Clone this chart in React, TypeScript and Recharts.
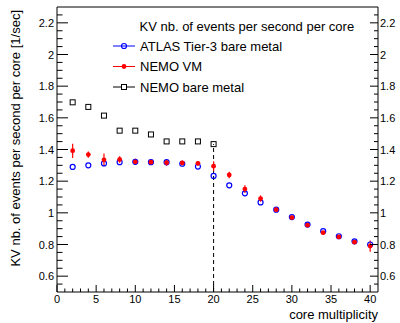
import React from 'react';
import {
  ComposedChart,
  Scatter,
  XAxis,
  YAxis,
  ErrorBar,
  ReferenceLine,
  ReferenceArea,
  Customized,
} from 'recharts';

const FONT = '"Liberation Sans", Arial, Helvetica, sans-serif';

// Core multiplicity (x values) for the full scans
const cores = [2, 4, 6, 8, 10, 12, 14, 16, 18, 20, 22, 24, 26, 28, 30, 32, 34, 36, 38, 40];
// Bare-metal NEMO scan only goes up to 20 cores
const nemoBareCores = [2, 4, 6, 8, 10, 12, 14, 16, 18, 20];

// Events per second per core
const atlasTier3 = [1.29, 1.3, 1.312, 1.32, 1.322, 1.32, 1.32, 1.31, 1.292, 1.233, 1.174, 1.123, 1.066, 1.02, 0.973, 0.926, 0.884, 0.852, 0.82, 0.8];
const nemoVm = [1.392, 1.368, 1.335, 1.337, 1.322, 1.32, 1.317, 1.315, 1.313, 1.295, 1.239, 1.15, 1.09, 1.02, 0.97, 0.922, 0.875, 0.848, 0.815, 0.79];
const nemoVmErr = [0.045, 0.02, 0.04, 0.02, 0.02, 0.015, 0.02, 0.015, 0.015, 0.03, 0.02, 0.025, 0.02, 0.01, 0.01, 0.01, 0.01, 0.01, 0.01, 0.035];
const nemoBare = [1.698, 1.669, 1.614, 1.519, 1.519, 1.495, 1.451, 1.451, 1.451, 1.434];

// Axis ranges and tick labels
const xDomain = [0, 41];
const yDomain = [0.5, 2.3];
const xMajorTicks = [0, 5, 10, 15, 20, 25, 30, 35, 40];
const yMajorTicks = [0.6, 0.8, 1, 1.2, 1.4, 1.6, 1.8, 2, 2.2];
const xMinorStep = 1;
const yMinorStep = 0.05;

const legendTitle = 'KV nb. of events per second per core';
const legendLabels = ['ATLAS Tier-3 bare metal', 'NEMO VM', 'NEMO bare metal'];
const xTitle = 'core multiplicity';
const yTitle = 'KV nb. of events per second per core [1/sec]';

const BLUE = '#0000ff';
const RED = '#ff0000';
const BLACK = '#000000';

const atlasData = cores.map((x, i) => ({ x, y: atlasTier3[i] }));
const nemoVmData = cores.map((x, i) => ({ x, y: nemoVm[i], err: nemoVmErr[i] }));
const nemoBareData = nemoBareCores.map((x, i) => ({ x, y: nemoBare[i] }));

const xTicks: number[] = [];
for (let v = xDomain[0]; v <= 40; v += xMinorStep) xTicks.push(v);
const yTicks: number[] = [];
for (let k = 1; k < Math.round((yDomain[1] - yDomain[0]) / yMinorStep); k++) {
  yTicks.push(Math.round((yDomain[0] + k * yMinorStep) * 1000) / 1000);
}

const isMajor = (v: number, majors: number[]) => majors.some((m) => Math.abs(m - v) < 1e-6);
const fmt = (v: number) => String(Number(v.toFixed(1)));

const BottomTick = (props: any) => {
  const { x, y, payload } = props;
  const major = isMajor(payload.value, xMajorTicks);
  return (
    <g>
      <line x1={x} x2={x} y1={y} y2={y - (major ? 7 : 3.5)} stroke={BLACK} strokeWidth={1} />
      {major && (
        <text x={x} y={y + 11} textAnchor="middle" fontSize={11} fontFamily={FONT} fill={BLACK}>
          {payload.value}
        </text>
      )}
    </g>
  );
};

const LeftTick = (props: any) => {
  const { x, y, payload } = props;
  const major = isMajor(payload.value, yMajorTicks);
  return (
    <g>
      <line x1={x} x2={x + (major ? 11 : 5.5)} y1={y} y2={y} stroke={BLACK} strokeWidth={1} />
      {major && (
        <text x={x - 3} y={y + 4} textAnchor="end" fontSize={11} fontFamily={FONT} fill={BLACK}>
          {fmt(payload.value)}
        </text>
      )}
    </g>
  );
};

const RightTick = (props: any) => {
  const { x, y, payload } = props;
  const major = isMajor(payload.value, yMajorTicks);
  return (
    <g>
      <line x1={x} x2={x - (major ? 8 : 4)} y1={y} y2={y} stroke={BLACK} strokeWidth={1} />
      {major && (
        <text x={x + 2} y={y + 4} textAnchor="start" fontSize={11} fontFamily={FONT} fill={BLACK}>
          {fmt(payload.value)}
        </text>
      )}
    </g>
  );
};

const OpenCircle = (p: any) => (
  <circle cx={p.cx} cy={p.cy} r={2.5} fill="none" stroke={BLUE} strokeWidth={1.2} />
);
const FullCircle = (p: any) => <circle cx={p.cx} cy={p.cy} r={2.4} fill={RED} stroke="none" />;
const OpenSquare = (p: any) => (
  <rect x={p.cx - 2.5} y={p.cy - 2.5} width={5} height={5} fill="none" stroke={BLACK} strokeWidth={1} />
);

const LegendAndTitles = () => {
  const entries = [
    { label: legendLabels[0], color: BLUE, marker: 'circle' },
    { label: legendLabels[1], color: RED, marker: 'dot' },
    { label: legendLabels[2], color: BLACK, marker: 'square' },
  ];
  return (
    <g fontFamily={FONT}>
      <text x={139.5} y={30.5} fontSize={13} fill={BLACK}>
        {legendTitle}
      </text>
      {entries.map((e, i) => {
        const cy = 46 + i * 20.5;
        return (
          <g key={e.label}>
            <line x1={113} x2={135} y1={cy} y2={cy} stroke={e.color} strokeWidth={1} />
            {e.marker === 'circle' && <OpenCircle cx={124} cy={cy} />}
            {e.marker === 'dot' && <FullCircle cx={124} cy={cy} />}
            {e.marker === 'square' && (
              <rect x={121.5} y={cy - 2.5} width={5} height={5} fill="#fff" stroke={BLACK} strokeWidth={1} />
            )}
            <text x={140} y={cy + 4.5} fontSize={13} fill={BLACK}>
              {e.label}
            </text>
          </g>
        );
      })}
      <text x={378} y={319} fontSize={13} textAnchor="end" fill={BLACK}>
        {xTitle}
      </text>
      <text
        transform="translate(19.5,10) rotate(-90)"
        x={0}
        y={0}
        fontSize={13}
        textAnchor="end"
        fill={BLACK}
      >
        {yTitle}
      </text>
    </g>
  );
};

export default function App() {
  return (
    <div style={{ position: 'absolute', left: 0, top: 0, width: 400, height: 323, background: '#fff' }}>
      <ComposedChart width={400} height={323} margin={{ top: 7, right: 0, bottom: 0, left: 17 }}>
        <XAxis
          type="number"
          dataKey="x"
          domain={xDomain}
          ticks={xTicks}
          interval={0}
          tickSize={0}
          tickMargin={0}
          axisLine={false}
          tickLine={false}
          tick={<BottomTick />}
          height={31}
          allowDataOverflow
        />
        <YAxis
          yAxisId="left"
          type="number"
          dataKey="y"
          domain={yDomain}
          ticks={yTicks}
          interval={0}
          tickSize={0}
          tickMargin={0}
          axisLine={false}
          tickLine={false}
          tick={<LeftTick />}
          width={40}
          allowDataOverflow
        />
        <YAxis
          yAxisId="right"
          orientation="right"
          type="number"
          domain={yDomain}
          ticks={yTicks}
          interval={0}
          tickSize={0}
          tickMargin={0}
          axisLine={false}
          tickLine={false}
          tick={<RightTick />}
          width={22}
          allowDataOverflow
        />
        <ReferenceArea
          yAxisId="left"
          x1={xDomain[0]}
          x2={xDomain[1]}
          y1={yDomain[0]}
          y2={yDomain[1]}
          fill="none"
          stroke={BLACK}
          strokeWidth={1}
          fillOpacity={0}
        />
        <ReferenceLine
          yAxisId="left"
          segment={[
            { x: nemoBareCores[nemoBareCores.length - 1], y: yDomain[0] },
            { x: nemoBareCores[nemoBareCores.length - 1], y: nemoBare[nemoBare.length - 1] },
          ]}
          stroke={BLACK}
          strokeWidth={1}
          strokeDasharray="4 3"
        />
        <Scatter
          yAxisId="left"
          name={legendLabels[2]}
          data={nemoBareData}
          shape={OpenSquare}
          isAnimationActive={false}
        />
        <Scatter
          yAxisId="left"
          name={legendLabels[0]}
          data={atlasData}
          shape={OpenCircle}
          isAnimationActive={false}
        />
        <Scatter
          yAxisId="left"
          name={legendLabels[1]}
          data={nemoVmData}
          shape={FullCircle}
          isAnimationActive={false}
        >
          <ErrorBar dataKey="err" direction="y" width={0} stroke={RED} strokeWidth={1.2} isAnimationActive={false} />
        </Scatter>
        <Customized component={LegendAndTitles} />
      </ComposedChart>
    </div>
  );
}
